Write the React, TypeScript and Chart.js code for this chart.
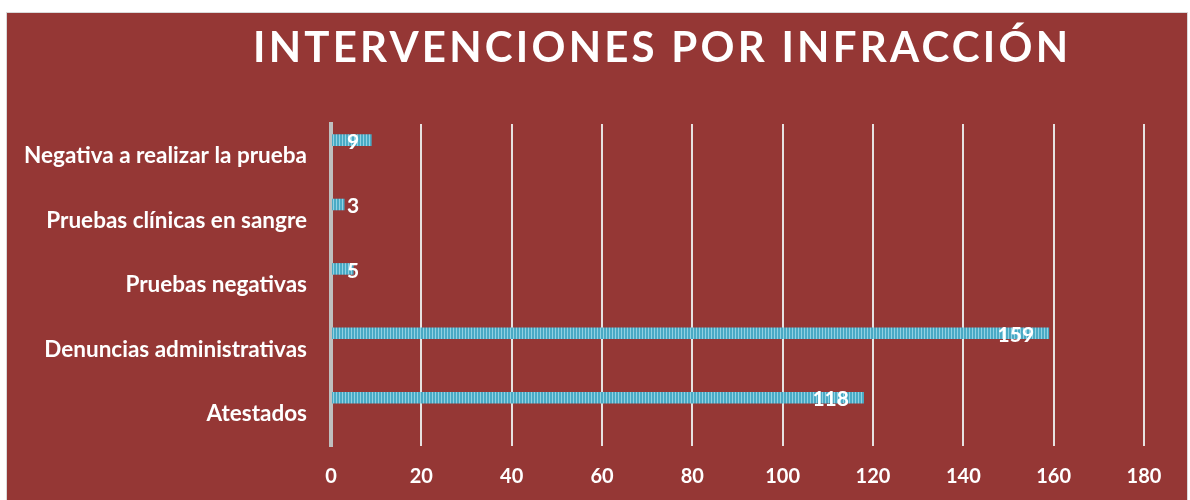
import React, { useEffect, useRef } from "react";
import { Chart, registerables } from "chart.js";

Chart.register(...registerables);

const title = "INTERVENCIONES POR INFRACCIÓN";
const categories = [
  "Negativa a realizar la prueba",
  "Pruebas clínicas en sangre",
  "Pruebas negativas",
  "Denuncias administrativas",
  "Atestados",
];
const values = [9, 3, 5, 159, 118];
const emptySeries = [null, null, null, null, null];
const xMin = 0;
const xMax = 180;
const xStep = 20;

const FONT = 'Lato, "Open Sans", sans-serif';
const BG = "#953735";

function makePattern(): CanvasPattern | string {
  const c = document.createElement("canvas");
  c.width = 3;
  c.height = 1;
  const g = c.getContext("2d");
  if (!g) return "#4bacc6";
  g.fillStyle = "#4aaac5";
  g.fillRect(0, 0, 3, 1);
  g.fillStyle = "#92d1e2";
  g.fillRect(2, 0, 1, 1);
  return g.createPattern(c, "repeat") || "#4bacc6";
}

const titlePlugin = {
  id: "spacedTitle",
  afterDraw(chart: any) {
    const ctx = chart.ctx as CanvasRenderingContext2D;
    ctx.save();
    ctx.font = `bold 42px ${FONT}`;
    ctx.fillStyle = "#ffffff";
    ctx.textBaseline = "alphabetic";
    ctx.textAlign = "left";
    (ctx as any).letterSpacing = "0px";
    const w0 = ctx.measureText(title).width;
    const targetLeft = 246;
    const targetWidth = 815;
    const gaps = title.length - 1;
    const s = Math.max(0, (targetWidth - w0) / gaps);
    (ctx as any).letterSpacing = `${s}px`;
    ctx.fillText(title, targetLeft, 49);
    ctx.restore();
  },
};

const labelPlugin = {
  id: "valueLabels",
  afterDatasetsDraw(chart: any) {
    const ctx = chart.ctx as CanvasRenderingContext2D;
    const meta = chart.getDatasetMeta(0);
    const base = chart.scales.x.getPixelForValue(0);
    ctx.save();
    ctx.font = `bold 21px ${FONT}`;
    ctx.fillStyle = "#ffffff";
    ctx.textAlign = "right";
    ctx.textBaseline = "middle";
    meta.data.forEach((bar: any, i: number) => {
      const txt = String(values[i]);
      const w = ctx.measureText(txt).width;
      const x = Math.max(bar.x - 15, base + 16 + w);
      ctx.fillText(txt, x, bar.y + 2);
    });
    ctx.restore();
  },
};

export default function App() {
  const ref = useRef<HTMLCanvasElement | null>(null);

  useEffect(() => {
    if (!ref.current) return;
    const pattern = makePattern();
    const chart = new Chart(ref.current, {
      type: "bar",
      data: {
        labels: categories,
        datasets: [
          {
            label: "Intervenciones",
            data: values,
            backgroundColor: pattern as any,
            borderWidth: 0,
            categoryPercentage: 1,
            barPercentage: 0.36,
          },
          {
            label: "",
            data: emptySeries as any,
            backgroundColor: "transparent",
            categoryPercentage: 1,
            barPercentage: 0.36,
          },
        ],
      },
      options: {
        indexAxis: "y",
        animation: false,
        responsive: false,
        devicePixelRatio: 1,
        layout: { padding: { top: 111, right: 43, left: 0, bottom: 0 } },
        plugins: {
          legend: { display: false },
          title: { display: false },
          tooltip: { enabled: false },
        },
        scales: {
          x: {
            min: xMin,
            max: xMax,
            ticks: {
              stepSize: xStep,
              color: "#ffffff",
              font: { family: FONT, size: 20, weight: "bold" },
              padding: 19,
            },
            grid: {
              color: "rgba(235,235,235,0.95)",
              lineWidth: 2,
              drawTicks: false,
            },
            border: { display: false },
            afterFit(scale: any) {
              scale.height = 54;
            },
          },
          y: {
            ticks: {
              color: "#ffffff",
              font: { family: FONT, size: 22.5, weight: "bold" },
              padding: 24,
            },
            grid: { display: false, drawTicks: false },
            border: { display: true, color: "#bfbfbf", width: 4 },
            afterFit(scale: any) {
              scale.width = 324;
            },
          },
        },
      },
      plugins: [titlePlugin, labelPlugin],
    });
    return () => chart.destroy();
  }, []);

  return (
    <div
      style={{
        position: "absolute",
        left: 6,
        top: 12,
        width: 1180,
        height: 487,
        background: BG,
        borderTop: "1px solid #d9d9d9",
        borderLeft: "1px solid #d9d9d9",
        borderRight: "1px solid #d9d9d9",
        overflow: "hidden",
      }}
    >
      <canvas ref={ref} width={1180} height={487} style={{ display: "block" }} />
    </div>
  );
}
